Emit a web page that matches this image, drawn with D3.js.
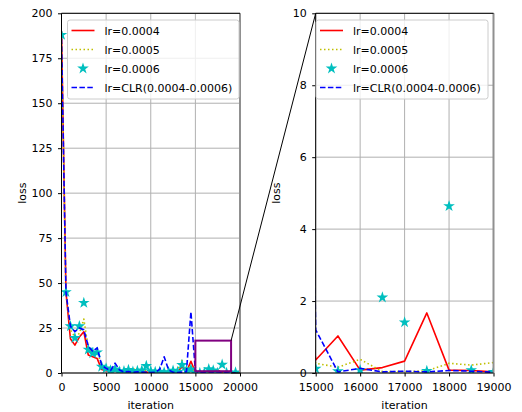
<!DOCTYPE html>
<html><head><meta charset="utf-8">
<script src="https://cdn.jsdelivr.net/npm/d3@7"></script>
<style>body{margin:0;background:#fff}svg{display:block;font-family:"DejaVu Sans",sans-serif}</style>
</head><body><svg id="c" width="522" height="412"></svg>
<script>
// ---------- data ----------
const iterations = [0,500,1000,1500,2000,2500,3000,3500,4000,4500,5000,5500,6000,6500,7000,7500,8000,8500,9000,9500,
  10000,10500,11000,11500,12000,12500,13000,13500,14000,14500,15000,15500,16000,16500,17000,17500,18000,18500,19000,19500];
const lossLr0004 = [190,45,19,15.5,20,23,10,9,8,2,1.3,1.0,2.5,0.8,0.5,0.6,0.4,0.5,0.4,0.6,
  0.3,0.4,0.3,0.5,0.3,0.4,0.5,3.5,0.8,6.5,0.36,1.03,0.08,0.15,0.33,1.67,0.08,0.07,0.03,0.05];
const lossLr0005 = [188,44,24,20,22,30,14,11,12,4,3,2,3,1,1.5,1,2.5,1,2,1,
  0.8,1.5,0.6,1,0.7,1,1.5,7,1,4,0.27,0.16,0.38,0.04,0.04,0.06,0.27,0.22,0.29,0.2];
const lossLr0006 = [188,45,26,19.5,26,39,13,11,11.5,3.5,2.6,1.5,2,0.8,1,1.7,0.8,1.2,1.5,3.9,
  1,0.6,0.8,0.4,0.5,1.3,0.6,4.5,1.5,2,0.12,0.05,0.08,2.1,1.41,0.06,4.64,0.08,0.03,0.3];
const lossClr = [186,45,26,23,25,24,15,12,14,4.4,2.6,1.3,5.5,1.7,0.5,0.8,0.4,0.6,0.5,0.4,
  0.3,0.4,2,9,1.7,0.4,0.3,0.5,0.7,34,1.2,0.03,0.13,0.03,0.05,0.03,0.07,0.05,0.02,0.05];
const seriesNames = ["lr=0.0004","lr=0.0005","lr=0.0006","lr=CLR(0.0004-0.0006)"];
const leftXTicks = [0,5000,10000,15000,20000];
const leftYTicks = [0,25,50,75,100,125,150,175,200];
const rightXTicks = [15000,16000,17000,18000,19000];
const rightYTicks = [0,2,4,6,8,10];
const zoomX = [15000,19000];
const zoomY = [1,18];

// ---------- styles ----------
const styles = [
  {type:"line", color:"#ff0000", dash:null},
  {type:"line", color:"#bfbf00", dash:"1.5,2.5"},
  {type:"star", color:"#00bfbf"},
  {type:"line", color:"#0000ff", dash:"5.5,2.4"}
];
const seriesData = [lossLr0004, lossLr0005, lossLr0006, lossClr];

const svg = d3.select("#c");
const FONT = 11;

function panel(id, box, xDomain, yDomain, xTicks, yTicks, legendBox) {
  const x = d3.scaleLinear().domain(xDomain).range([box.x0, box.x1]);
  const y = d3.scaleLinear().domain(yDomain).range([box.y1, box.y0]);
  const g = svg.append("g");
  svg.append("clipPath").attr("id", "clip"+id).append("rect")
    .attr("x", box.x0).attr("y", box.y0).attr("width", box.x1-box.x0).attr("height", box.y1-box.y0);

  // grid
  g.append("g").selectAll("line").data(xTicks).join("line")
    .attr("x1", d=>x(d)).attr("x2", d=>x(d)).attr("y1", box.y0).attr("y2", box.y1)
    .attr("stroke", "#b0b0b0").attr("stroke-width", 1);
  g.append("g").selectAll("line").data(yTicks).join("line")
    .attr("y1", d=>y(d)).attr("y2", d=>y(d)).attr("x1", box.x0).attr("x2", box.x1)
    .attr("stroke", "#b0b0b0").attr("stroke-width", 1);

  const plot = g.append("g").attr("clip-path", `url(#clip${id})`);
  const line = d3.line().x((d,i)=>x(iterations[i])).y(d=>y(d));
  const star = d3.symbol().type(d3.symbolStar).size(42);
  seriesData.forEach((vals, k) => {
    const s = styles[k];
    if (s.type === "line") {
      plot.append("path").datum(vals).attr("d", line).attr("fill","none")
        .attr("stroke", s.color).attr("stroke-width", 1.6)
        .attr("stroke-dasharray", s.dash).attr("stroke-linejoin","round");
    } else {
      plot.append("g").selectAll("path").data(vals).join("path")
        .attr("transform", (d,i)=>`translate(${x(iterations[i])},${y(d)})`)
        .attr("d", star).attr("fill", s.color);
    }
  });

  // axes
  const ax = g.append("g").attr("transform", `translate(0,${box.y1})`)
    .call(d3.axisBottom(x).tickValues(xTicks).tickFormat(d3.format("d")).tickSize(3.5).tickPadding(7));
  const ay = g.append("g").attr("transform", `translate(${box.x0},0)`)
    .call(d3.axisLeft(y).tickValues(yTicks).tickFormat(d3.format("d")).tickSize(3.5).tickPadding(5.5));
  [ax, ay].forEach(a => {
    a.select(".domain").remove();
    a.selectAll("text").attr("font-size", FONT).attr("font-family","DejaVu Sans").attr("fill","#000");
    a.selectAll("line").attr("stroke","#000").attr("stroke-width",1);
  });

  // spines
  g.append("line").attr("x1", box.x1).attr("x2", box.x1).attr("y1", box.y0).attr("y2", box.y1)
    .attr("stroke", "#909090").attr("stroke-width", 2);
  g.append("line").attr("x1", box.x0).attr("x2", box.x1).attr("y1", box.y0).attr("y2", box.y0)
    .attr("stroke", "#000").attr("stroke-width", 1);
  g.append("line").attr("x1", box.x0).attr("x2", box.x0).attr("y1", box.y0).attr("y2", box.y1)
    .attr("stroke", "#000").attr("stroke-width", 1);
  g.append("line").attr("x1", box.x0).attr("x2", box.x1).attr("y1", box.y1).attr("y2", box.y1)
    .attr("stroke", "#000").attr("stroke-width", 1);

  // labels
  g.append("text").attr("x", (box.x0+box.x1)/2).attr("y", 409).attr("text-anchor","middle")
    .attr("font-size", FONT).text("iteration");
  g.append("text").attr("transform", `translate(${box.x0-36},${(box.y0+box.y1)/2}) rotate(-90)`)
    .attr("text-anchor","middle").attr("font-size", FONT).text("loss");

  // legend
  const lg = g.append("g");
  lg.append("rect").attr("x", legendBox.x).attr("y", legendBox.y).attr("width", legendBox.w).attr("height", legendBox.h)
    .attr("rx", 2.5).attr("fill", "#fff").attr("fill-opacity", 0.8).attr("stroke", "#cccccc").attr("stroke-width", 1);
  seriesNames.forEach((name, k) => {
    const s = styles[k];
    const cy = legendBox.y + 10.5 + k*19;
    const lx = legendBox.x + 4;
    if (s.type === "line") {
      lg.append("line").attr("x1", lx).attr("x2", lx+23).attr("y1", cy).attr("y2", cy)
        .attr("stroke", s.color).attr("stroke-width", 1.6).attr("stroke-dasharray", s.dash);
    } else {
      lg.append("path").attr("transform", `translate(${lx+11.5},${cy})`).attr("d", star).attr("fill", s.color);
    }
    lg.append("text").attr("x", lx+33).attr("y", cy+4).attr("font-size", FONT).text(name);
  });
  return {x, y};
}

const leftBox = {x0:61.5, x1:240, y0:13.3, y1:373};
const rightBox = {x0:315.7, x1:493.5, y0:13.3, y1:373};
const L = panel("L", leftBox, [0,20000], [0,200], leftXTicks, leftYTicks, {x:67.5, y:20, w:171.5, h:79});
const R = panel("R", rightBox, zoomX, [0,10], rightXTicks, rightYTicks, {x:316, y:20, w:172, h:79});

// zoom rectangle and connectors
svg.append("rect").attr("x", L.x(zoomX[0])).attr("y", L.y(zoomY[1]))
  .attr("width", L.x(zoomX[1]) - L.x(zoomX[0])).attr("height", L.y(zoomY[0]) - L.y(zoomY[1]))
  .attr("fill","none").attr("stroke","#800080").attr("stroke-width", 2);
svg.append("line").attr("x1", L.x(zoomX[1])).attr("y1", L.y(zoomY[1]))
  .attr("x2", R.x(zoomX[0])).attr("y2", R.y(10)).attr("stroke","#000").attr("stroke-width",1);
svg.append("line").attr("x1", L.x(zoomX[1])).attr("y1", L.y(0))
  .attr("x2", R.x(zoomX[0])).attr("y2", R.y(0)).attr("stroke","#000").attr("stroke-width",1);
</script></body></html>
